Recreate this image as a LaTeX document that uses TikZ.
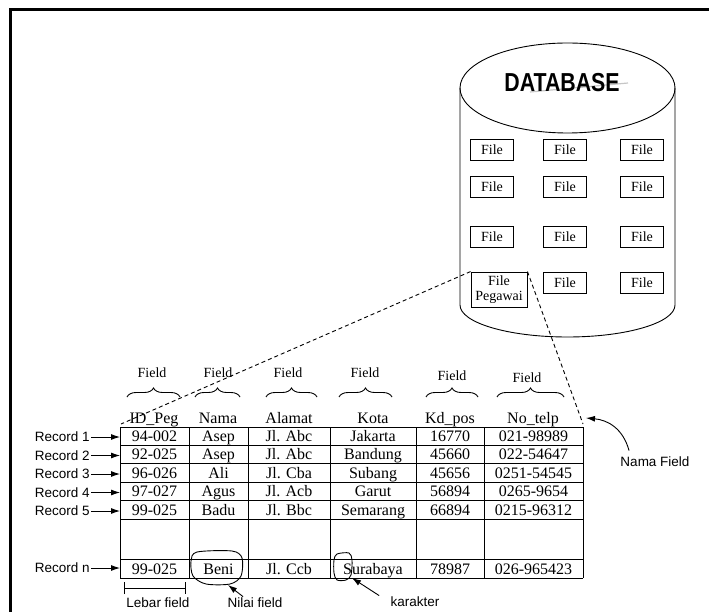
\documentclass[tikz,border=0pt]{standalone}
\usepackage{fontspec}
\usepackage{graphicx}
\setmainfont{Liberation Serif}
\setsansfont{Liberation Sans}
\usetikzlibrary{arrows.meta,decorations.pathreplacing}

\begin{document}
\begin{tikzpicture}[x=1pt, y=-1pt, line width=0.9pt,
  cell/.style={font=\fontsize{16}{18}\selectfont, inner sep=0pt, anchor=base},
  filebox/.style={draw, minimum width=43pt, minimum height=21pt, inner sep=0pt,
    font=\fontsize{14}{14}\selectfont},
  fieldlbl/.style={font=\fontsize{14}{14}\selectfont, inner sep=1pt},
  note/.style={font=\sffamily\fontsize{13.5}{15}\selectfont, inner sep=1pt},
  fieldbrace/.style={decorate, decoration={brace, amplitude=9pt}},
  pointer/.style={-{Latex[length=9pt,width=6pt]}}]
  \useasboundingbox (0,0) rectangle (709,612);
  % frame
  \draw[line width=3pt] (10,614) -- (10,10) -- (712,10);

  % database
  \draw (460,88) -- (460,305)
    arc[start angle=180, end angle=360, x radius=107.5pt, y radius=32pt] -- (675,88);
  \draw (567.5,88) ellipse [x radius=107.5pt, y radius=45pt];
  \draw[gray!45, line width=1.2pt] (530,92) -- (628,83);
  \node[font=\sffamily\bfseries\fontsize{26}{26}\selectfont, inner sep=0pt] (db) at (562,83)
    {\scalebox{0.82}[1]{DATABASE}};
  \foreach \x [count=\c] in {492,565,642} {
    \foreach \y [count=\r] in {150,187,237}
      \node[filebox] (f\r\c) at (\x,\y) {File};
  }
  \node[filebox] (f42) at (565,283) {File};
  \node[filebox] (f43) at (642,283) {File};
  \node[filebox, minimum width=56pt, minimum height=35pt, align=center,
    font=\fontsize{14}{15}\selectfont] (peg) at (499,289.5) {File\\Pegawai};

  % table
  \coordinate (tblL) at (120,427);
  \coordinate (tblTL) at (121,424);
  \coordinate (tblTR) at (583,424);
  \foreach \x in {120,189,248,330,416,484,583}
    \draw (\x,427) -- (\x,578);
  \foreach \y in {427,445,463,482,500,519,559,578}
    \draw (120,\y) -- (583,\y);
  \foreach \x/\t [count=\c] in {154/ID\_Peg, 218/Nama, 289/Alamat, 373/Kota,
      450/Kd\_pos, 533/No\_telp}
    \node[cell] (h\c) at (\x,423) {\t};
  \foreach \vid/\vnm/\val/\vkt/\vkd/\vtl [count=\r] in {
      94-002/Asep/Jl. Abc/Jakarta/16770/021-98989,
      92-025/Asep/Jl. Abc/Bandung/45660/022-54647,
      96-026/Ali/Jl. Cba/Subang/45656/0251-54545,
      97-027/Agus/Jl. Acb/Garut/56894/0265-9654,
      99-025/Badu/Jl. Bbc/Semarang/66894/0215-96312} {
    \pgfmathsetmacro{\yb}{441+18.5*(\r-1)}
    \node[cell] (c\r-1) at (154.5,\yb) {\vid};
    \node[cell] (c\r-2) at (218.5,\yb) {\vnm};
    \node[cell] (c\r-3) at (289,\yb) {\val};
    \node[cell] (c\r-4) at (373,\yb) {\vkt};
    \node[cell] (c\r-5) at (450,\yb) {\vkd};
    \node[cell] (c\r-6) at (533.5,\yb) {\vtl};
    \node[note, anchor=east] (rec\r) at (91,\yb-4) {Record \r};
    \draw[pointer] (rec\r.east) -- (rec\r.east -| tblL);
  }
  \node[cell] (cn-1) at (154.5,574) {99-025};
  \node[cell] (cn-2) at (218.5,574) {Beni};
  \node[cell] (cn-3) at (289,574) {Jl. Ccb};
  \node[cell] (cn-4) at (373,574) {Surabaya};
  \node[cell] (cn-5) at (450,574) {78987};
  \node[cell] (cn-6) at (533.5,574) {026-965423};
  \node[note, anchor=east] (recn) at (91,568) {Record n};
  \draw[pointer] (recn.east) -- (recn.east -| tblL);

  % field braces
  \foreach \x/\l/\r/\fy [count=\c] in {152/127/180/373, 218/195/240/373,
      288/266/317/373, 365/339/392/373, 452/426/478/376, 527/497/564/378} {
    \node[fieldlbl] (fl\c) at (\x,\fy) {Field};
    \draw[fieldbrace] (\l,397) -- (\r,397);
  }

  % zoom lines
  \draw[dash pattern=on 4pt off 3pt] (peg.north west) -- (tblTL);
  \draw[dash pattern=on 4pt off 3pt] (peg.north east) -- (tblTR);

  % notes
  \coordinate (nfTip) at (586,418);
  \node[note] (namafield) at (655,462) {Nama Field};
  \draw[pointer] ([shift={(10,-5)}]namafield.north west)
    .. controls +(-6,-22) and +(22,2) .. (nfTip);

  \draw plot[smooth cycle] coordinates {(197,552) (232,551) (242,558) (241,576)
    (230,584) (206,584) (193,576) (191,561)};
  \coordinate (beniB) at (228,585);
  \node[note] (nilai) at (255,603) {Nilai field};
  \draw[pointer] ([xshift=-12pt]nilai.north) -- (beniB);

  \draw plot[smooth cycle, tension=0.5] coordinates {(337,554) (349,553) (352,560)
    (351,575) (346,580) (337,580) (334,573) (334,560)};
  \coordinate (charB) at (352,578);
  \node[note] (karakter) at (415,602) {karakter};
  \draw[pointer] ([shift={(-10,0)}]karakter.north west) -- (charB);

  \node[note] (lebar) at (158,603) {Lebar field};
  \draw[{Bar[width=12pt]}-{Bar[width=12pt]}] (124,588) -- (186,588);
\end{tikzpicture}
\end{document}
